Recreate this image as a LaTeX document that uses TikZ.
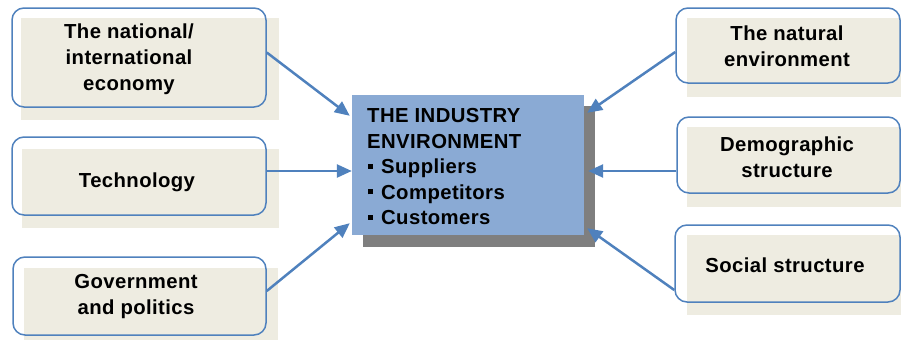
\documentclass[tikz,border=0pt]{standalone}
\usepackage{fontspec}
\setmainfont{Liberation Sans}[LetterSpace=2]
\usetikzlibrary{calc,arrows.meta}
\definecolor{bblue}{HTML}{4F81BD}
\definecolor{beige}{HTML}{EEECE1}
\definecolor{cfill}{HTML}{8AAAD4}
\definecolor{shadowgray}{HTML}{7F7F7F}
\newcommand{\sqbul}{\hspace*{1pt}\raisebox{5pt}{\rule{5pt}{5pt}}\hspace{8pt}}
\tikzset{
  bgbox/.style={rectangle, fill=beige, inner sep=0pt},
  outbox/.style={rectangle, draw=bblue, line width=1.5pt, rounded corners=12pt, inner sep=0pt},
  lbl/.style={font=\bfseries\fontsize{20.3}{26}\selectfont, align=center, inner sep=0pt},
  conn/.style={draw=bblue, line width=2.5pt, -{Triangle[length=15pt,width=13pt]}},
}
\begin{document}
\begin{tikzpicture}[x=1pt,y=-1pt]
\useasboundingbox (0,0) rectangle (901,340);
% left column
\node[bgbox, minimum width=258pt, minimum height=102pt] (econbg) at (150,69) {};
\node[outbox, minimum width=254pt, minimum height=99pt] (econ) at (139,57.5) {};
\node[lbl] (econt) at (129,59) {The national/\\international\\economy};

\node[bgbox, minimum width=257pt, minimum height=79pt] (techbg) at (150.5,188.5) {};
\node[outbox, minimum width=254pt, minimum height=78pt] (tech) at (139,176) {};
\node[lbl] (techt) at (137,182) {Technology};

\node[bgbox, minimum width=254pt, minimum height=72pt] (govbg) at (151,304) {};
\node[outbox, minimum width=253pt, minimum height=78pt] (gov) at (139.5,296) {};
\node[lbl] (govt) at (136,296.5) {Government\\and politics};

% right column
\node[bgbox, minimum width=214pt, minimum height=79pt] (natbg) at (794,57.5) {};
\node[outbox, minimum width=224pt, minimum height=75pt] (nat) at (788,45.5) {};
\node[lbl] (natt) at (787,46.5) {The natural\\environment};

\node[bgbox, minimum width=214pt, minimum height=80pt] (demobg) at (794,167) {};
\node[outbox, minimum width=223pt, minimum height=76pt] (demo) at (788.5,155) {};
\node[lbl] (demot) at (787,157.5) {Demographic\\structure};

\node[bgbox, minimum width=214pt, minimum height=80pt] (socbg) at (794,275) {};
\node[outbox, minimum width=225pt, minimum height=77pt] (soc) at (787.5,263.5) {};
\node[lbl] (soct) at (785,265) {Social structure};

% centre
\node[rectangle, fill=shadowgray, minimum width=232pt, minimum height=141pt, inner sep=0pt] (indshadow) at (479,176.5) {};
\node[rectangle, fill=cfill, minimum width=232pt, minimum height=140pt, inner sep=0pt] (ind) at (468,165) {};
\node[anchor=west, inner sep=0pt, align=left, font=\bfseries\fontsize{20.3}{25.5}\selectfont] (indt) at (367,167)
  {THE INDUSTRY\\ENVIRONMENT\\\sqbul Suppliers\\\sqbul Competitors\\\sqbul Customers};

% connectors
\draw[conn] ($(econ.east)+(0,-5)$) -- ($(ind.north west)+(-2,21)$);
\draw[conn] ($(tech.east)+(0,-5)$) -- ($(ind.west)+(0,6)$);
\draw[conn] ($(gov.east)+(0,-5)$) -- ($(ind.south west)+(-2,-12)$);
\draw[conn] ($(nat.west)+(0,6.5)$) -- ($(indshadow.north east)+(-8,7)$);
\draw[conn] ($(demo.west)+(0,16)$) -- ($(indshadow.east)+(-7,-5.5)$);
\draw[conn] ($(soc.west)+(0,26.5)$) -- ($(indshadow.south east)+(-8,-19)$);
\end{tikzpicture}
\end{document}
